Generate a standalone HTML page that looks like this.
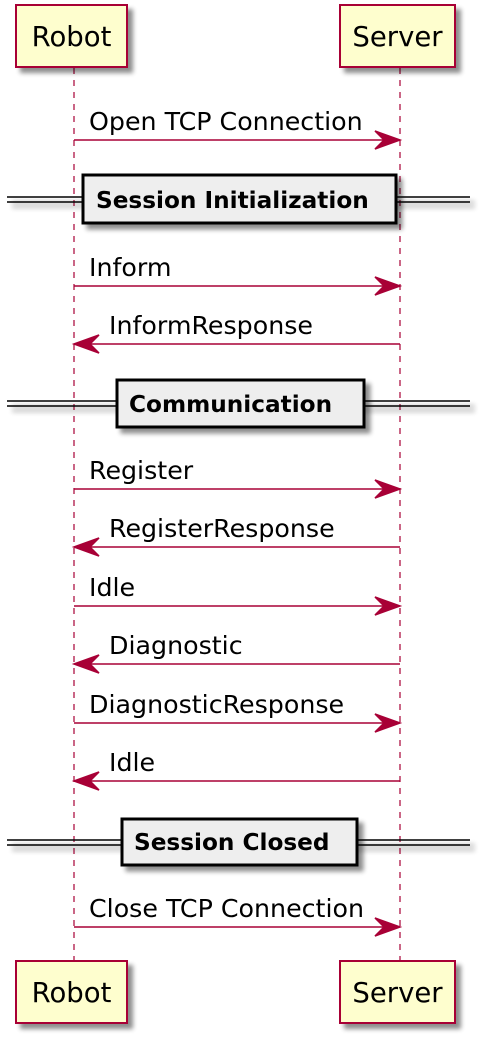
<!DOCTYPE html>
<html><head><meta charset="utf-8"><style>
body{margin:0;background:#fff;}
svg text{font-family:"DejaVu Sans","Liberation Sans",sans-serif;}
.p{font-size:27.5px;}
.m{font-size:25.3px;}
.d{font-size:23.2px;font-weight:bold;}
</style></head><body>
<svg width="494" height="1042" viewBox="0 0 494 1042" xmlns="http://www.w3.org/2000/svg">
<defs>
<filter id="sh" x="-20%" y="-20%" width="150%" height="150%"><feGaussianBlur in="SourceAlpha" stdDeviation="2.5"/><feOffset dx="5" dy="5"/><feComponentTransfer><feFuncA type="linear" slope="0.45"/></feComponentTransfer><feMerge><feMergeNode/><feMergeNode in="SourceGraphic"/></feMerge></filter>
</defs>
<g stroke="#a80036" stroke-width="1.2" stroke-dasharray="6,6">
<line x1="74" y1="68" x2="74" y2="960"/>
<line x1="400" y1="68" x2="400" y2="960"/>
</g>
<g fill="#fefece" stroke="#a80036" stroke-width="2" filter="url(#sh)">
<rect x="16" y="5" width="111" height="62"/>
<rect x="340" y="5" width="115" height="62"/>
<rect x="16" y="961" width="111" height="62"/>
<rect x="340" y="961" width="115" height="62"/>
</g>
<g fill="#000" text-anchor="middle" class="p">
<text x="71.5" y="46">Robot</text>
<text x="397.5" y="46">Server</text>
<text x="71.5" y="1002">Robot</text>
<text x="397.5" y="1002">Server</text>
</g>
<g stroke="#000" stroke-width="1.5" filter="url(#sh)">
<line x1="7" y1="197" x2="470" y2="197"/><line x1="7" y1="202" x2="470" y2="202"/>
<line x1="7" y1="401" x2="470" y2="401"/><line x1="7" y1="406" x2="470" y2="406"/>
<line x1="7" y1="840" x2="470" y2="840"/><line x1="7" y1="845" x2="470" y2="845"/>
</g>
<g fill="#eeeeee" stroke="#000" stroke-width="3" filter="url(#sh)">
<rect x="83" y="175" width="313" height="48"/>
<rect x="117" y="380" width="247" height="47"/>
<rect x="122" y="819" width="235" height="46"/>
</g>
<g fill="#000" class="d">
<text x="96" y="208">Session Initialization</text>
<text x="129" y="412">Communication</text>
<text x="134" y="850">Session Closed</text>
</g>
<g stroke="#a80036" stroke-width="1.5" fill="#a80036">
<line x1="74" y1="140" x2="398" y2="140"/><path d="M400 140 L375 131 L384 140 L375 149Z"/>
<line x1="74" y1="286" x2="398" y2="286"/><path d="M400 286 L375 277 L384 286 L375 295Z"/>
<line x1="76" y1="344" x2="400" y2="344"/><path d="M74 344 L99 335 L90 344 L99 353Z"/>
<line x1="74" y1="489" x2="398" y2="489"/><path d="M400 489 L375 480 L384 489 L375 498Z"/>
<line x1="76" y1="547" x2="400" y2="547"/><path d="M74 547 L99 538 L90 547 L99 556Z"/>
<line x1="74" y1="606" x2="398" y2="606"/><path d="M400 606 L375 597 L384 606 L375 615Z"/>
<line x1="76" y1="664" x2="400" y2="664"/><path d="M74 664 L99 655 L90 664 L99 673Z"/>
<line x1="74" y1="723" x2="398" y2="723"/><path d="M400 723 L375 714 L384 723 L375 732Z"/>
<line x1="76" y1="781" x2="400" y2="781"/><path d="M74 781 L99 772 L90 781 L99 790Z"/>
<line x1="74" y1="927" x2="398" y2="927"/><path d="M400 927 L375 918 L384 927 L375 936Z"/>
</g>
<g fill="#000" class="m">
<text x="89" y="130">Open TCP Connection</text>
<text x="89" y="276">Inform</text>
<text x="109" y="334">InformResponse</text>
<text x="89" y="479">Register</text>
<text x="109" y="537">RegisterResponse</text>
<text x="89" y="596">Idle</text>
<text x="109" y="654">Diagnostic</text>
<text x="89" y="713">DiagnosticResponse</text>
<text x="109" y="771">Idle</text>
<text x="89" y="917">Close TCP Connection</text>
</g>
</svg>
</body></html>
